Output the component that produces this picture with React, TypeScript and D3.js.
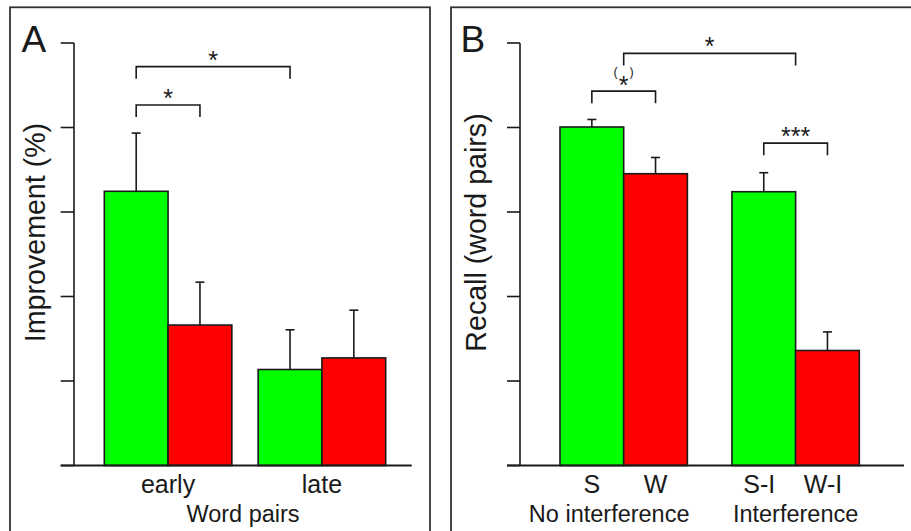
import React from "react";
import * as d3 from "d3";

// ---------- data ----------
const groupsA = ["early", "late"];
const sleepA = [3.245, 1.136];
const sleepErrA = [0.689, 0.47];
const wakeA = [1.662, 1.273];
const wakeErrA = [0.508, 0.565];

const groupsB = ["No interference", "Interference"];
const tickLabelsB = [["S", "W"], ["S-I", "W-I"]];
const sleepB = [4.006, 3.24];
const sleepErrB = [0.089, 0.225];
const wakeB = [3.453, 1.361];
const wakeErrB = [0.192, 0.22];

const yTicks = [0, 1, 2, 3, 4, 5];

// brackets: [group, series] endpoints (series 0.5 = group centre), level in data units
const bracketsA = [
  { from: [0, 0], to: [0, 1], level: 4.266, label: "*" },
  { from: [0, 0], to: [1, 0], level: 4.72, label: "*" },
];
const bracketsB = [
  { from: [0, 0], to: [0, 1], level: 4.43, label: "(*)" },
  { from: [0, 0.5], to: [1, 0.5], level: 4.877, label: "*" },
  { from: [1, 0], to: [1, 1], level: 3.815, label: "***" },
];

const FONT = "'Liberation Sans', Arial, Helvetica, sans-serif";
const GREEN = "#00ff00";
const RED = "#ff0000";
const INK = "#1a1a1a";

const y = d3.scaleLinear().domain([0, 5]).range([465.5, 43]);

type PanelProps = {
  letter: string;
  letterX: number;
  yLabel: string;
  yLabelX: number;
  axisX: number;
  tickLeft: number;
  baseRight: number;
  barRange: [number, number];
  padInner: number;
  groups: string[];
  sleep: number[];
  sleepErr: number[];
  wake: number[];
  wakeErr: number[];
  brackets: { from: number[]; to: number[]; level: number; label: string }[];
  barLabels?: string[][];
  titleDx?: number[];
  title?: string;
  titleDx0?: number;
};

function Panel(p: PanelProps) {
  const xg = d3.scaleBand().domain(p.groups).range(p.barRange).paddingInner(p.padInner).paddingOuter(0);
  const bw = xg.bandwidth() / 2;
  const cx = (g: number, s: number) => (xg(p.groups[g]) as number) + bw * (s + 0.5);
  const legLen = 12;
  const capHalf = 4.5;

  const bars: any[] = [];
  p.groups.forEach((g, gi) => {
    [
      { v: p.sleep[gi], e: p.sleepErr[gi], c: GREEN, s: 0 },
      { v: p.wake[gi], e: p.wakeErr[gi], c: RED, s: 1 },
    ].forEach((b) => {
      const x0 = (xg(g) as number) + bw * b.s;
      const xc = cx(gi, b.s);
      bars.push(
        <g key={g + b.s}>
          <line x1={xc} x2={xc} y1={y(b.v)} y2={y(b.v + b.e)} stroke={INK} strokeWidth={1.6} />
          <line x1={xc - capHalf} x2={xc + capHalf} y1={y(b.v + b.e)} y2={y(b.v + b.e)} stroke={INK} strokeWidth={1.6} />
          <rect x={x0} y={y(b.v)} width={bw} height={y(0) - y(b.v)} fill={b.c} stroke={INK} strokeWidth={1.6} />
        </g>
      );
    });
  });

  return (
    <g>
      {/* y axis */}
      <line x1={p.axisX} x2={p.axisX} y1={y(5)} y2={y(0)} stroke={INK} strokeWidth={1.6} />
      {yTicks.map((t) => (
        <line key={t} x1={p.tickLeft} x2={p.axisX} y1={y(t)} y2={y(t)} stroke={INK} strokeWidth={1.6} />
      ))}
      {bars}
      {/* baseline */}
      <line x1={p.tickLeft} x2={p.baseRight} y1={y(0)} y2={y(0)} stroke={INK} strokeWidth={1.8} />
      {/* brackets */}
      {p.brackets.map((b, i) => {
        const x1 = cx(b.from[0], b.from[1]);
        const x2 = cx(b.to[0], b.to[1]);
        const yy = y(b.level);
        const mid = (x1 + x2) / 2;
        const starCenter = yy - 12.5;
        let lab;
        if (b.label === "(*)") {
          lab = (
            <g fontFamily={FONT} fill={INK} textAnchor="middle">
              <text x={mid - 8} y={starCenter - 3} fontSize={12.5}>(</text>
              <text x={mid} y={starCenter + 1 + 14.5} fontSize={25}>*</text>
              <text x={mid + 8} y={starCenter - 3} fontSize={12.5}>)</text>
            </g>
          );
        } else {
          lab = (
            <text x={mid} y={starCenter + 14.5} fontSize={25} fontFamily={FONT} fill={INK} textAnchor="middle">
              {b.label}
            </text>
          );
        }
        return (
          <g key={i}>
            <path d={`M${x1},${yy + legLen}V${yy}H${x2}V${yy + legLen}`} fill="none" stroke={INK} strokeWidth={1.6} />
            {lab}
          </g>
        );
      })}
      {/* tick labels */}
      {p.barLabels
        ? p.groups.map((g, gi) =>
            p.barLabels![gi].map((l, si) => (
              <text key={g + l} x={cx(gi, si) + (gi === 1 ? -4.5 : 0)} y={493} fontSize={25} fontFamily={FONT} fill={INK} textAnchor="middle">
                {l}
              </text>
            ))
          )
        : p.groups.map((g, gi) => (
            <text key={g} x={cx(gi, 0.5)} y={493} fontSize={25} fontFamily={FONT} fill={INK} textAnchor="middle">
              {g}
            </text>
          ))}
      {/* group titles */}
      {p.barLabels ? (
        p.groups.map((g, gi) => (
          <text key={"t" + g} x={cx(gi, 0.5) + (p.titleDx ? p.titleDx[gi] : 0)} y={522} fontSize={23.5} fontFamily={FONT} fill={INK} textAnchor="middle">
            {g}
          </text>
        ))
      ) : (
        <text x={(p.barRange[0] + p.barRange[1]) / 2 + (p.titleDx0 || 0)} y={522} fontSize={23.5} fontFamily={FONT} fill={INK} textAnchor="middle">
          {p.title}
        </text>
      )}
      {/* y label */}
      <text
        transform={`translate(${p.yLabelX},232.5) rotate(-90)`}
        fontSize={28.6}
        fontFamily={FONT}
        fill={INK}
        textAnchor="middle"
      >
        {p.yLabel}
      </text>
      {/* panel letter */}
      <text x={p.letterX} y={51.7} fontSize={37} fontFamily={FONT} fill={INK}>
        {p.letter}
      </text>
    </g>
  );
}

export default function App() {
  return (
    <svg
      width={911}
      height={531}
      style={{ position: "absolute", left: 0, top: 0, display: "block", background: "#fff" }}
    >
      <rect x={0} y={0} width={911} height={531} fill="#fff" />
      <rect x={10} y={7.3} width={420} height={600} fill="none" stroke="#333" strokeWidth={1.8} />
      <rect x={451} y={7.3} width={500} height={600} fill="none" stroke="#333" strokeWidth={1.8} />
      <Panel
        letter="A"
        letterX={21.5}
        yLabel="Improvement (%)"
        yLabelX={44.5}
        axisX={74}
        tickLeft={60.7}
        baseRight={411.7}
        barRange={[104.3, 385.7]}
        padInner={0.171}
        groups={groupsA}
        sleep={sleepA}
        sleepErr={sleepErrA}
        wake={wakeA}
        wakeErr={wakeErrA}
        brackets={bracketsA}
        title="Word pairs"
        titleDx0={-2}
      />
      <Panel
        letter="B"
        letterX={460.6}
        yLabel="Recall (word pairs)"
        yLabelX={485.7}
        axisX={520}
        tickLeft={507}
        baseRight={904}
        barRange={[560, 859.3]}
        padInner={0.259}
        groups={groupsB}
        sleep={sleepB}
        sleepErr={sleepErrB}
        wake={wakeB}
        wakeErr={wakeErrB}
        brackets={bracketsB}
        barLabels={tickLabelsB}
        titleDx={[-14.5, 0]}
      />
    </svg>
  );
}
